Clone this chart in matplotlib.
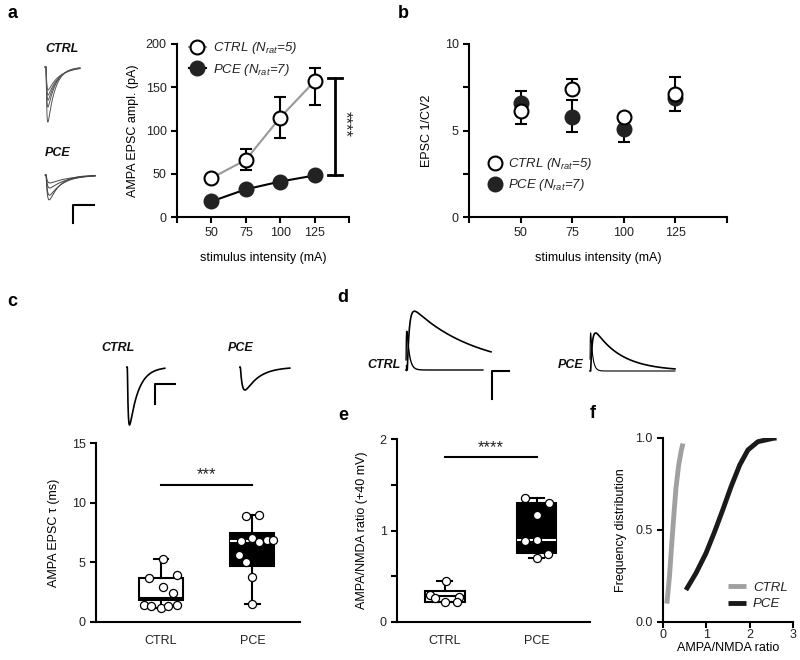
import numpy as np
import matplotlib
matplotlib.use("Agg")
import matplotlib.pyplot as plt

plt.rcParams['font.family'] = ['Liberation Sans', 'DejaVu Sans']
plt.rcParams['mathtext.fontset'] = 'custom'
plt.rcParams['mathtext.rm'] = 'Liberation Sans'
plt.rcParams['mathtext.it'] = 'Liberation Sans:italic'
plt.rcParams['font.size'] = 8
plt.rcParams['axes.linewidth'] = 1.5
plt.rcParams['xtick.major.width'] = 1.5
plt.rcParams['ytick.major.width'] = 1.5
plt.rcParams['xtick.minor.width'] = 1.5
plt.rcParams['ytick.minor.width'] = 1.5
plt.rcParams['xtick.major.size'] = 4
plt.rcParams['ytick.major.size'] = 4
plt.rcParams['xtick.minor.size'] = 4
plt.rcParams['ytick.minor.size'] = 4
plt.rcParams['text.color'] = '#222222'
plt.rcParams['xtick.labelcolor'] = '#222222'
plt.rcParams['ytick.labelcolor'] = '#222222'

# ---- data ----
intensity = [50, 75, 100, 125]

# a: AMPA EPSC amplitude (pA)
ampl_ctrl = [45, 66, 115, 157]
ampl_ctrl_lo = [3, 12, 24, 27]
ampl_ctrl_hi = [3, 13, 24, 15]
ampl_pce = [18, 32, 41, 48]
ampl_pce_err = [2, 3, 3, 3]

# b: EPSC 1/CV2
cv_ctrl = [6.1, 7.4, 5.8, 7.1]
cv_ctrl_lo = [0.7, 0.0, 0.0, 0.0]
cv_ctrl_hi = [0.0, 0.6, 0.0, 1.0]
cv_pce = [6.6, 5.8, 5.1, 6.9]
cv_pce_lo = [0.0, 0.9, 0.75, 0.8]
cv_pce_hi = [0.7, 0.95, 0.0, 0.0]

# c: AMPA EPSC decay tau (ms)
tau_ctrl = [5.28, 3.7, 3.9, 2.9, 2.46, 1.45, 1.3, 1.2, 1.35, 1.4]
tau_pce = [8.88, 8.97, 6.79, 7.0, 6.68, 6.87, 6.87, 5.6, 5.0, 3.8, 1.5]
tau_box = [dict(whislo=1.2, q1=1.85, med=2.0, q3=3.7, whishi=5.28, fliers=[]),
           dict(whislo=1.5, q1=4.7, med=6.8, q3=7.5, whishi=8.97, fliers=[])]

# e: AMPA/NMDA ratio (+40 mV)
ratio_ctrl = [0.45, 0.30, 0.27, 0.26, 0.22, 0.22]
ratio_pce = [1.35, 1.30, 1.17, 0.885, 0.90, 0.70, 0.74]
ratio_box = [dict(whislo=0.22, q1=0.22, med=0.28, q3=0.34, whishi=0.45, fliers=[]),
             dict(whislo=0.70, q1=0.75, med=0.90, q3=1.30, whishi=1.35, fliers=[])]

# f: cumulative distribution of AMPA/NMDA ratio
cdf_ctrl_x = [0.09, 0.15, 0.20, 0.25, 0.30, 0.36, 0.42, 0.46]
cdf_ctrl_y = [0.10, 0.25, 0.42, 0.58, 0.73, 0.85, 0.93, 0.97]
cdf_pce_x = [0.53, 0.76, 0.99, 1.19, 1.38, 1.57, 1.77, 1.96, 2.19, 2.54, 2.62]
cdf_pce_y = [0.174, 0.265, 0.373, 0.49, 0.61, 0.735, 0.853, 0.935, 0.98, 0.998, 1.0]

# example traces (peak pA, decay ms)
a_ctrl_amp = [-153, -111, -92, -78, -64]
a_ctrl_tau = [3.5, 4.0, 4.5, 5.0, 5.5]
a_pce_amp = [-69, -56, -36, -22]
a_pce_tau = [5.0, 6.5, 8.0, 9.5]
c_amp = [-116, -46]
c_tau = [4.5, 7.0]
d_ctrl_amp = [97, 147]     # AMPA, NMDA
d_ctrl_tau = [7.5, 190]
d_pce_amp = [95, 95]
d_pce_tau = [6.0, 80]

# jitter of the dots (fraction of the category spacing)
tau_ctrl_jit = [0.02, -0.13, 0.17, 0.02, 0.13, -0.19, -0.11, 0.0, 0.08, 0.17]
tau_pce_jit = [-0.07, 0.07, -0.13, 0.0, 0.07, 0.16, 0.23, -0.15, -0.07, 0.0, 0.0]
ratio_ctrl_jit = [0.01, -0.16, 0.16, -0.11, 0.0, 0.13]
ratio_pce_jit = [-0.13, 0.13, 0.0, -0.13, 0.0, 0.0, 0.12]

W, H = 800, 660
fig = plt.figure(figsize=(8, 6.6), dpi=100)


def px_axes(left, top, right, bottom):
    return fig.add_axes([left / W, 1 - bottom / H, (right - left) / W, (bottom - top) / H])


def style(ax):
    for s in ['top', 'right']:
        ax.spines[s].set_visible(False)
    ax.tick_params(direction='out', labelsize=9)


def epsc(t, amp, tau_r, tau_d, t0):
    s = np.clip(t - t0, 0, None)
    w = np.exp(-s / tau_d) - np.exp(-s / tau_r)
    return amp * w / w.max()


def trace_axes(left, top, right, bottom):
    ax = px_axes(left, top, right, bottom)
    ax.axis('off')
    return ax


ctrl_kw = dict(marker='o', ms=10, mfc='white', mec='black', mew=1.5)
pce_kw = dict(marker='o', ms=10, mfc='#222222', mec='#222222', mew=1.5)
lab_kw = dict(fontsize=9, fontweight='bold', fontstyle='italic', color='#111111')
LS = 9

# ---------------- a ----------------
ax = px_axes(177, 44, 349, 217)
style(ax)
ax.errorbar(intensity, ampl_ctrl, yerr=[ampl_ctrl_lo, ampl_ctrl_hi], fmt='none',
            ecolor='black', elinewidth=1.5, capsize=4, capthick=1.5, zorder=2)
ax.errorbar(intensity, ampl_pce, yerr=ampl_pce_err, fmt='none',
            ecolor='black', elinewidth=1.5, capsize=4, capthick=1.5, zorder=2)
ax.plot(intensity, ampl_ctrl, color='#999999', lw=1.5, zorder=3,
        label=r'CTRL ($N_{rat}$=5)', **ctrl_kw)
ax.plot(intensity, ampl_pce, color='black', lw=1.5, zorder=3,
        label=r'PCE ($N_{rat}$=7)', **pce_kw)
ax.plot([140, 140], [49, 161], color='black', lw=2)
ax.plot([135, 145], [49, 49], color='black', lw=2)
ax.plot([135, 145], [161, 161], color='black', lw=2)
ax.text(147, 108, '****', rotation=270, ha='center', va='center', fontsize=12)
ax.set_xlim(25, 150)
ax.set_ylim(0, 200)
ax.set_xticks(intensity)
ax.set_xticks([25, 150], minor=True)
ax.set_yticks([0, 50, 100, 150, 200])
ax.set_xlabel('stimulus intensity (mA)', fontsize=LS, labelpad=9)
ax.set_ylabel('AMPA EPSC ampl. (pA)', fontsize=LS, labelpad=5)
ax.legend(loc='upper left', bbox_to_anchor=(0.0, 1.09), frameon=False,
          handlelength=1.3, handletextpad=0.5, labelspacing=0.4,
          prop=dict(style='italic', size=9.5))

# a traces
t = np.linspace(0, 17.6, 300)
ax = trace_axes(43, 62, 85, 125)
ax.set_xlim(0, 20)
ax.set_ylim(-161, 14)
for amp, tau in zip(a_ctrl_amp, a_ctrl_tau):
    ax.plot(t[t > 1], epsc(t, amp, 0.3, tau, 1.5)[t > 1], color='#555555', lw=0.7)
t = np.linspace(0, 24.8, 300)
ax = trace_axes(43, 170, 100, 228)
ax.set_xlim(0, 27.1)
ax.set_ylim(-147, 14)
for amp, tau in zip(a_pce_amp, a_pce_tau):
    ax.plot(t[t > 1], epsc(t, amp, 0.6, tau, 1.5)[t > 1], color='#444444', lw=0.7)
ax.plot([24.3, 14.3, 14.3], [-83, -83, -133], color='black', lw=1.5)
fig.text(45 / W, 1 - 49 / H, 'CTRL', ha='left', va='center', **lab_kw)
fig.text(45 / W, 1 - 153 / H, 'PCE', ha='left', va='center', **lab_kw)

# ---------------- b ----------------
ax = px_axes(469, 44, 727, 217)
style(ax)
ax.errorbar(intensity, cv_ctrl, yerr=[cv_ctrl_lo, cv_ctrl_hi], fmt='none',
            ecolor='black', elinewidth=1.5, capsize=4, capthick=1.5, zorder=2)
ax.errorbar(intensity, cv_pce, yerr=[cv_pce_lo, cv_pce_hi], fmt='none',
            ecolor='black', elinewidth=1.5, capsize=4, capthick=1.5, zorder=2)
ax.plot(intensity, cv_pce, ls='none', zorder=3, label=r'PCE ($N_{rat}$=7)', **pce_kw)
ax.plot(intensity, cv_ctrl, ls='none', zorder=4, label=r'CTRL ($N_{rat}$=5)', **ctrl_kw)
ax.set_xlim(25, 150)
ax.set_ylim(0, 10)
ax.set_xticks(intensity)
ax.set_xticks([25, 150], minor=True)
ax.set_yticks([0, 5, 10])
ax.set_yticks([2.5, 7.5], minor=True)
ax.set_xlabel('stimulus intensity (mA)', fontsize=LS, labelpad=9)
ax.set_ylabel('EPSC 1/CV2', fontsize=LS, labelpad=8)
h, l = ax.get_legend_handles_labels()
ax.legend(h[::-1], l[::-1], loc='upper left', bbox_to_anchor=(0.03, 0.42), frameon=False,
          handlelength=1.0, handletextpad=0.5, labelspacing=0.4,
          prop=dict(style='italic', size=9.5))

# ---------------- c ----------------
box_kw = dict(patch_artist=True, showfliers=False, widths=0.48, capwidths=0.16,
              whiskerprops=dict(color='black', lw=1.5),
              capprops=dict(color='black', lw=1.5))

ax = px_axes(96, 443, 300, 622)
style(ax)
bp = ax.bxp(tau_box, positions=[0, 1], boxprops=dict(lw=1.5, edgecolor='black'),
            medianprops=dict(color='black', lw=1.5), **box_kw)
bp['boxes'][0].set_facecolor('white')
bp['boxes'][1].set_facecolor('black')
bp['medians'][1].set_color('white')
ax.scatter(np.array(tau_ctrl_jit), tau_ctrl, s=34, fc='white', ec='black', lw=0.9, zorder=4)
ax.scatter(1 + np.array(tau_pce_jit), tau_pce, s=34, fc='white', ec='black', lw=0.9, zorder=4)
ax.plot([0, 1], [11.5, 11.5], color='black', lw=1.5)
ax.text(0.5, 11.7, '***', ha='center', va='bottom', fontsize=12)
ax.set_xlim(-0.71, 1.52)
ax.set_ylim(0, 15)
ax.set_yticks([0, 5, 10, 15])
ax.set_xticks([0, 1])
ax.set_xticklabels(['CTRL', 'PCE'], fontsize=9)
ax.tick_params(axis='x', length=0, pad=9)
ax.set_ylabel('AMPA EPSC \u03c4 (ms)', fontsize=LS, labelpad=8)

# c traces
t = np.linspace(0, 92.5, 800)
ax = trace_axes(115, 355, 300, 432)
ax.set_xlim(0, 92.5)
ax.set_ylim(-130, 24)
m = (t > 6) & (t < 25)
ax.plot(t[m], epsc(t, c_amp[0], 0.4, c_tau[0], 6.2)[m], color='black', lw=1.2)
m = (t > 62.5) & (t < 87.5)
ax.plot(t[m], epsc(t, c_amp[1], 1.0, c_tau[1], 62.7)[m], color='black', lw=1.2)
ax.plot([30, 20, 20], [-34, -34, -74], color='black', lw=1.5)
fig.text(118 / W, 1 - 348 / H, 'CTRL', ha='center', va='center', **lab_kw)
fig.text(241 / W, 1 - 348 / H, 'PCE', ha='center', va='center', **lab_kw)

# ---------------- d ----------------
t = np.linspace(0, 336, 1200)
ax = trace_axes(400, 305, 512, 402)
ax.set_xlim(0, 336)
ax.set_ylim(-80, 162.5)
m = (t > 18) & (t < 249)
ax.plot(t[m], epsc(t, d_ctrl_amp[0], 1.0, d_ctrl_tau[0], 18)[m], color='black', lw=1.0)
m = (t > 18) & (t < 273)
ax.plot(t[m], epsc(t, d_ctrl_amp[1], 6.0, d_ctrl_tau[1], 22)[m], color='black', lw=1.2)
ax.plot([18, 18], [0, 12], color='black', lw=1.0)
ax.plot([326, 276, 276], [-2.5, -2.5, -72.5], color='black', lw=1.5)
fig.text(401 / W, 1 - 365 / H, 'CTRL', ha='right', va='center', **lab_kw)

t = np.linspace(0, 285, 1200)
ax = trace_axes(585, 325, 680, 380)
ax.set_xlim(0, 285)
ax.set_ylim(-22.5, 115)
m = (t > 15) & (t < 270)
ax.plot(t[m], epsc(t, d_pce_amp[0], 0.8, d_pce_tau[0], 15)[m], color='black', lw=0.8)
ax.plot(t[m], epsc(t, d_pce_amp[1], 5.0, d_pce_tau[1], 17)[m], color='black', lw=1.2)
fig.text(584 / W, 1 - 365 / H, 'PCE', ha='right', va='center', **lab_kw)

# ---------------- e ----------------
ax = px_axes(397, 439, 590, 622)
style(ax)
box_kw['widths'] = 0.43
bp = ax.bxp(ratio_box, positions=[0, 1], boxprops=dict(lw=1.5, edgecolor='black'),
            medianprops=dict(color='black', lw=1.5), **box_kw)
bp['boxes'][0].set_facecolor('white')
bp['boxes'][1].set_facecolor('black')
bp['medians'][1].set_color('white')
ax.scatter(np.array(ratio_ctrl_jit), ratio_ctrl, s=34, fc='white', ec='black', lw=0.9, zorder=4)
ax.scatter(1 + np.array(ratio_pce_jit), ratio_pce, s=34, fc='white', ec='black', lw=0.9, zorder=4)
ax.plot([0, 1], [1.8, 1.8], color='black', lw=1.5)
ax.text(0.5, 1.82, '****', ha='center', va='bottom', fontsize=12)
ax.set_xlim(-0.52, 1.58)
ax.set_ylim(0, 2)
ax.set_yticks([0, 1, 2])
ax.set_yticks([0.5, 1.5], minor=True)
ax.set_xticks([0, 1])
ax.set_xticklabels(['CTRL', 'PCE'], fontsize=9)
ax.tick_params(axis='x', length=0, pad=9)
ax.set_ylabel('AMPA/NMDA ratio (+40 mV)', fontsize=LS, labelpad=8)

# ---------------- f ----------------
ax = px_axes(663, 438, 793, 622)
style(ax)
ax.plot(cdf_ctrl_x, cdf_ctrl_y, color='#a0a0a0', lw=3.5, label='CTRL', solid_capstyle='butt')
ax.plot(cdf_pce_x, cdf_pce_y, color='#1a1a1a', lw=3.5, label='PCE', solid_capstyle='butt')
ax.set_xlim(0, 3)
ax.set_ylim(0, 1)
ax.set_xticks([0, 1, 2, 3])
ax.set_yticks([0.0, 0.5, 1.0])
ax.set_yticklabels(['0.0', '0.5', '1.0'])
ax.tick_params(axis='x', pad=1)
ax.set_xlabel('AMPA/NMDA ratio', fontsize=LS, labelpad=1)
ax.set_ylabel('Frequency distribution', fontsize=LS, labelpad=6)
ax.legend(loc='lower right', bbox_to_anchor=(1.05, 0.0), frameon=False,
          handlelength=1.4, handletextpad=0.5, labelspacing=0.3,
          prop=dict(style='italic', size=9.5))

# panel letters
for letter, x, y in [('a', 12, 14), ('b', 403, 14), ('c', 12, 302), ('d', 343, 298),
                     ('e', 343, 415), ('f', 593, 413)]:
    fig.text(x / W, 1 - y / H, letter, fontsize=13, fontweight='bold',
             ha='center', va='center', color='black')

fig.savefig('out.png', dpi=100)
